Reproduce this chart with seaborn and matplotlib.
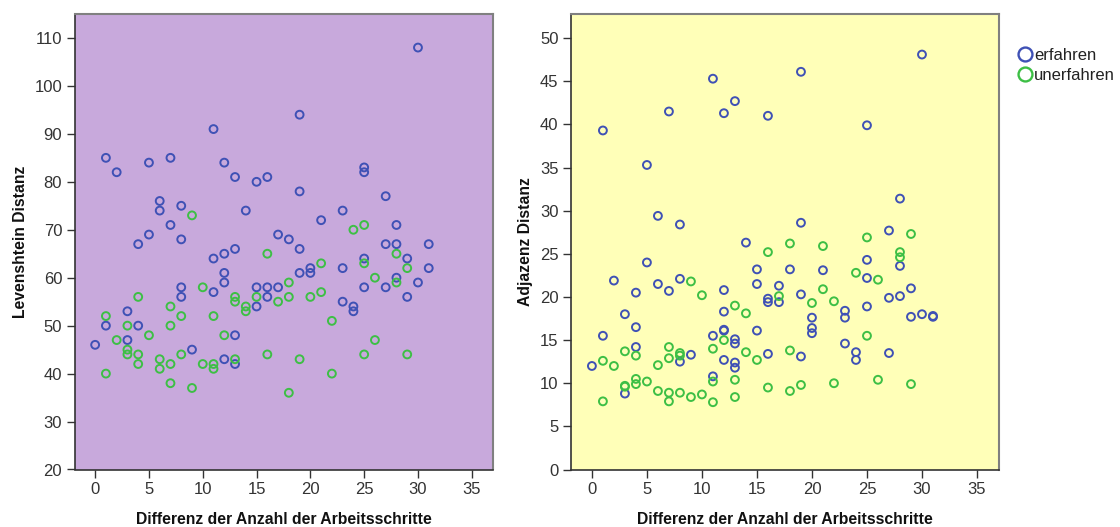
import matplotlib
matplotlib.use("Agg")
import matplotlib.pyplot as plt
from matplotlib.lines import Line2D
import seaborn as sns
import pandas as pd

# ---------------- data ----------------
groups = ["erfahren", "unerfahren"]
colors = ["#3F51B5", "#3DBF45"]

lev_erf_x = [0, 1, 1, 2, 3, 3, 4, 4, 5, 5, 6, 6, 7, 7, 8, 8, 8, 8, 9, 11, 11, 11, 12, 12, 12, 12, 12,
             13, 13, 13, 13, 14, 15, 15, 15, 16, 16, 16, 17, 17, 18, 19, 19, 19, 19, 20, 20, 21, 23, 23,
             23, 24, 24, 25, 25, 25, 25, 27, 27, 27, 28, 28, 28, 29, 29, 30, 30, 31, 31]
lev_erf_y = [46, 85, 50, 82, 53, 47, 67, 50, 84, 69, 76, 74, 85, 71, 75, 68, 58, 56, 45, 91, 64, 57, 84, 65, 61, 59, 43,
             81, 66, 48, 42, 74, 80, 58, 54, 81, 58, 56, 69, 58, 68, 94, 78, 66, 61, 62, 61, 72, 74, 62,
             55, 54, 53, 83, 82, 64, 58, 77, 67, 58, 71, 67, 60, 64, 56, 108, 59, 67, 62]

lev_unerf_x = [1, 1, 2, 3, 3, 3, 4, 4, 4, 5, 6, 6, 7, 7, 7, 7, 8, 8, 9, 9, 10, 10, 11, 11, 11, 12, 13, 13,
               13, 14, 14, 15, 16, 16, 17, 18, 18, 18, 19, 20, 21, 21, 22, 22, 24, 25, 25, 25, 26, 26, 28,
               28, 29, 29]
lev_unerf_y = [52, 40, 47, 50, 45, 44, 56, 44, 42, 48, 43, 41, 54, 50, 42, 38, 52, 44, 73, 37, 58, 42, 52, 42, 41, 48, 56, 55,
               43, 54, 53, 56, 65, 44, 55, 59, 56, 36, 43, 56, 63, 57, 51, 40, 70, 71, 63, 44, 60, 47, 65,
               59, 62, 44]

adj_erf_x = [0, 1, 1, 2, 3, 3, 4, 4, 4, 5, 5, 6, 6, 7, 7, 8, 8, 8, 9, 11, 11, 11, 12, 12, 12, 12, 12, 12,
             13, 13, 13, 13, 13, 14, 15, 15, 15, 16, 16, 16, 16, 17, 17, 18, 19, 19, 19, 19, 20, 20, 20,
             21, 23, 23, 23, 24, 24, 25, 25, 25, 25, 27, 27, 27, 28, 28, 28, 29, 29, 30, 30, 31, 31]
adj_erf_y = [12.0, 39.3, 15.5, 21.9, 18.0, 8.8, 20.5, 16.5, 14.2, 35.3, 24.0, 29.4, 21.5, 41.5, 20.7, 28.4, 22.1, 12.5,
             13.3, 45.3, 15.5, 10.8, 41.3, 20.8, 18.3, 16.2, 16.1, 12.7, 42.7, 15.1, 14.6, 12.4, 11.8, 26.3,
             23.2, 21.5, 16.1, 41.0, 19.8, 19.4, 13.4, 21.3, 19.4, 23.2, 46.1, 28.6, 20.3, 13.1, 17.6, 16.4,
             15.8, 23.1, 18.4, 17.6, 14.6, 13.6, 12.7, 39.9, 24.3, 22.2, 18.9, 27.7, 19.9, 13.5, 31.4, 23.6,
             20.1, 21.0, 17.7, 48.1, 18.0, 17.8, 17.7]

adj_unerf_x = [1, 1, 2, 3, 3, 3, 4, 4, 4, 5, 6, 6, 7, 7, 7, 7, 8, 8, 8, 9, 9, 10, 10, 11, 11, 11, 12, 13,
               13, 13, 14, 14, 15, 16, 16, 17, 18, 18, 18, 19, 20, 21, 21, 22, 22, 24, 25, 25, 26, 26, 28,
               28, 29, 29]
adj_unerf_y = [12.6, 7.9, 12.0, 13.7, 9.7, 9.6, 13.2, 10.5, 9.9, 10.2, 12.1, 9.1, 14.2, 12.9, 8.9, 7.9, 13.5, 13.2,
               8.9, 21.8, 8.4, 20.2, 8.7, 14.0, 10.2, 7.8, 15.0, 19.0, 10.4, 8.4, 18.1, 13.6, 12.7, 25.2, 9.5,
               20.1, 26.2, 13.8, 9.1, 9.8, 19.3, 25.9, 20.9, 19.5, 10.0, 22.8, 26.9, 15.5, 22.0, 10.4, 25.2,
               24.6, 27.3, 9.9]

x_ticks = [0, 5, 10, 15, 20, 25, 30, 35]
lev_ticks = [20, 30, 40, 50, 60, 70, 80, 90, 100, 110]
adj_ticks = [0, 5, 10, 15, 20, 25, 30, 35, 40, 45, 50]

x_label = "Differenz der Anzahl der Arbeitsschritte"
lev_label = "Levenshtein Distanz"
adj_label = "Adjazenz Distanz"

# ---------------- style ----------------
sns.set_theme(style="white")
plt.rcParams["font.family"] = ["Liberation Sans", "DejaVu Sans"]

fig = plt.figure(figsize=(11.2, 5.27), dpi=100)
axL = fig.add_axes([74.7 / 1120, 1 - 469.5 / 527, (493.3 - 74.7) / 1120, (469.5 - 14) / 527])
axR = fig.add_axes([571 / 1120, 1 - 469.5 / 527, (999 - 571) / 1120, (469.5 - 14) / 527])

panels = [
    (axL, lev_erf_x, lev_erf_y, lev_unerf_x, lev_unerf_y, "#C8A9DC", lev_ticks, (20, 115), lev_label),
    (axR, adj_erf_x, adj_erf_y, adj_unerf_x, adj_unerf_y, "#FFFFB8", adj_ticks, (0, 52.8), adj_label),
]

for ax, ex, ey, ux, uy, bg, yt, ylim, ylab in panels:
    ax.set_facecolor(bg)
    for gx, gy, c in [(ex, ey, colors[0]), (ux, uy, colors[1])]:
        df = pd.DataFrame({"x": gx, "y": gy})
        sns.scatterplot(data=df, x="x", y="y", ax=ax, marker="o", s=32,
                        color=c, facecolor="none", edgecolor=c, linewidth=1.4)
    ax.set_xlim(-1.9, 37)
    ax.set_ylim(*ylim)
    ax.set_xticks(x_ticks)
    ax.set_yticks(yt)
    ax.tick_params(axis="both", which="both", direction="out", length=6, width=1,
                   color="#333333", labelsize=12, labelcolor="#333333", pad=3,
                   left=True, bottom=True, top=False, right=False)
    ax.set_xlabel(x_label, fontsize=11.3, fontweight="bold", color="#111111", labelpad=11)
    ax.set_ylabel(ylab, fontsize=11.3, fontweight="bold", color="#111111", labelpad=5)
    for side in ["left", "bottom"]:
        ax.spines[side].set_color("#333333")
        ax.spines[side].set_linewidth(1.2)
    for side in ["top", "right"]:
        ax.spines[side].set_color("#808080")
        ax.spines[side].set_linewidth(1.5)
    ax.grid(False)

handles = [Line2D([0], [0], marker="o", linestyle="none", markersize=10,
                  markerfacecolor="none", markeredgecolor=c, markeredgewidth=1.7)
           for c in colors]
fig.legend(handles, groups, loc="upper left", bbox_to_anchor=(1016 / 1120, 1 - 48 / 527),
           frameon=False, fontsize=12, handletextpad=0.0, handlelength=1.1,
           labelspacing=0.3, borderpad=0, borderaxespad=0, labelcolor="#222222")

fig.savefig("out.png", dpi=100, facecolor="white")
